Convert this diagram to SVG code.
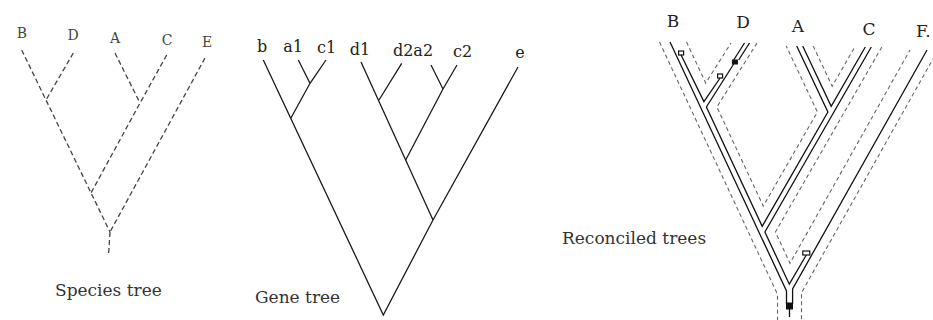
<svg xmlns="http://www.w3.org/2000/svg" width="933" height="320" viewBox="0 0 933 320">
<style>
text{font-family:"DejaVu Serif","Liberation Serif",serif;fill:#222}
.sp{font-size:14px;fill:#444}
.gn{font-size:16px}
.rc{font-size:17px}
.ttl{font-size:17px;fill:#333}
.dash{fill:none;stroke:#444;stroke-width:1.3;stroke-dasharray:5 3}
.tube{fill:none;stroke:#666;stroke-width:1.1;stroke-dasharray:4 3}
.sol{fill:none;stroke:#1a1a1a;stroke-width:1.3;stroke-linejoin:miter}
.gl{fill:none;stroke:#111;stroke-width:1.3}
.open{fill:#fff;stroke:#111;stroke-width:1.2}
.fill{fill:#111;stroke:#111;stroke-width:1}
</style>
<rect width="933" height="320" fill="#fff"/>

<!-- Species tree -->
<g id="species-tree">
  <g id="sp-connectors">
    <path class="dash" d="M21.7,50 L110,232"/>
    <path class="dash" d="M73.3,53 L46,100"/>
    <path class="dash" d="M115,53 L140,103"/>
    <path class="dash" d="M166.7,55 L140,103 L91,193"/>
    <path class="dash" d="M205,58 L110,232"/>
    <path class="dash" d="M110,232 L108.5,255"/>
  </g>
  <g id="sp-B"><text class="sp" x="22" y="38" text-anchor="middle">B</text></g>
  <g id="sp-D"><text class="sp" x="73" y="40" text-anchor="middle">D</text></g>
  <g id="sp-A"><text class="sp" x="115" y="43" text-anchor="middle">A</text></g>
  <g id="sp-C"><text class="sp" x="167" y="45" text-anchor="middle">C</text></g>
  <g id="sp-E"><text class="sp" x="207" y="47" text-anchor="middle">E</text></g>
  <g id="sp-title"><text class="ttl" x="55" y="296">Species tree</text></g>
</g>

<!-- Gene tree -->
<g id="gene-tree">
  <g id="gn-connectors">
    <path class="sol" d="M263.3,60 L383.3,315 L433,220 L518,67"/>
    <path class="sol" d="M298.3,60 L310,83.3"/>
    <path class="sol" d="M326,60 L310,83.3 L290.8,118.3"/>
    <path class="sol" d="M361,62 L433,220"/>
    <path class="sol" d="M401.7,63.3 L379,100"/>
    <path class="sol" d="M431,65 L443,89"/>
    <path class="sol" d="M457,65 L443,89 L405.7,160"/>
  </g>
  <g id="gn-b"><text class="gn" x="262" y="52" text-anchor="middle">b</text></g>
  <g id="gn-a1"><text class="gn" x="293" y="52" text-anchor="middle">a1</text></g>
  <g id="gn-c1"><text class="gn" x="326.5" y="53" text-anchor="middle">c1</text></g>
  <g id="gn-d1"><text class="gn" x="360" y="54.5" text-anchor="middle">d1</text></g>
  <g id="gn-d2a2"><text class="gn" x="413" y="56" text-anchor="middle">d2a2</text></g>
  <g id="gn-c2"><text class="gn" x="462.5" y="57" text-anchor="middle">c2</text></g>
  <g id="gn-e"><text class="gn" x="520" y="58" text-anchor="middle">e</text></g>
  <g id="gn-title"><text class="ttl" x="255" y="303">Gene tree</text></g>
</g>

<!-- Reconciled trees -->
<g id="reconciled-trees">
  <g id="rc-tube">
    <path class="tube" d="M659.5,42 L777.5,294.3 L777.5,320"/>
    <path class="tube" d="M686.5,42 L705.7,83 L731,43"/>
    <path class="tube" d="M757,43 L716.9,107 L763.3,206.1 L817.4,112 L786.2,46"/>
    <path class="tube" d="M813.2,46 L832.2,86.2 L854.8,47"/>
    <path class="tube" d="M881.8,47 L775.4,232 L790,263.3 L910,50"/>
    <path class="tube" d="M938,50 L801.5,292.7 L801.5,320"/>
  </g>
  <g id="rc-genes">
    <path class="gl" d="M670,42 L786.5,291 L786.5,304"/>
    <path class="gl" d="M681.1,55 L703.9,101.6 L720.1,78"/>
    <path class="gl" d="M733.7,64 L706.4,107 L762.2,226.3 L827.9,112 L796.7,46"/>
    <path class="gl" d="M744.5,43 L733.7,60"/>
    <path class="gl" d="M749.5,43 L738.7,60"/>
    <path class="gl" d="M802.7,46 L831.2,106.3 L865.3,47"/>
    <path class="gl" d="M871.3,47 L764.9,232 L789.3,284.2 L806.3,255"/>
    <path class="gl" d="M927,50 L792.6,289 L792.6,304"/>
    <path class="gl" d="M789.5,309 L789.5,317"/>
  </g>
  <g id="rc-markers">
    <rect class="open" x="678.6" y="51" width="5" height="4"/>
    <rect class="open" x="717.6" y="74" width="5" height="4"/>
    <rect class="fill" x="732.4" y="60" width="5" height="4"/>
    <rect class="open" x="802.8" y="251" width="7" height="4"/>
    <rect class="fill" x="786.5" y="303" width="6" height="6"/>
  </g>
  <g id="rc-B"><text class="rc" x="673" y="27" text-anchor="middle">B</text></g>
  <g id="rc-D"><text class="rc" x="743" y="28" text-anchor="middle">D</text></g>
  <g id="rc-A"><text class="rc" x="798" y="32" text-anchor="middle">A</text></g>
  <g id="rc-C"><text class="rc" x="869" y="35" text-anchor="middle">C</text></g>
  <g id="rc-F"><text class="rc" x="916" y="36.5">F.</text></g>
  <g id="rc-title"><text class="ttl" x="562" y="243.5">Reconciled trees</text></g>
</g>
</svg>
